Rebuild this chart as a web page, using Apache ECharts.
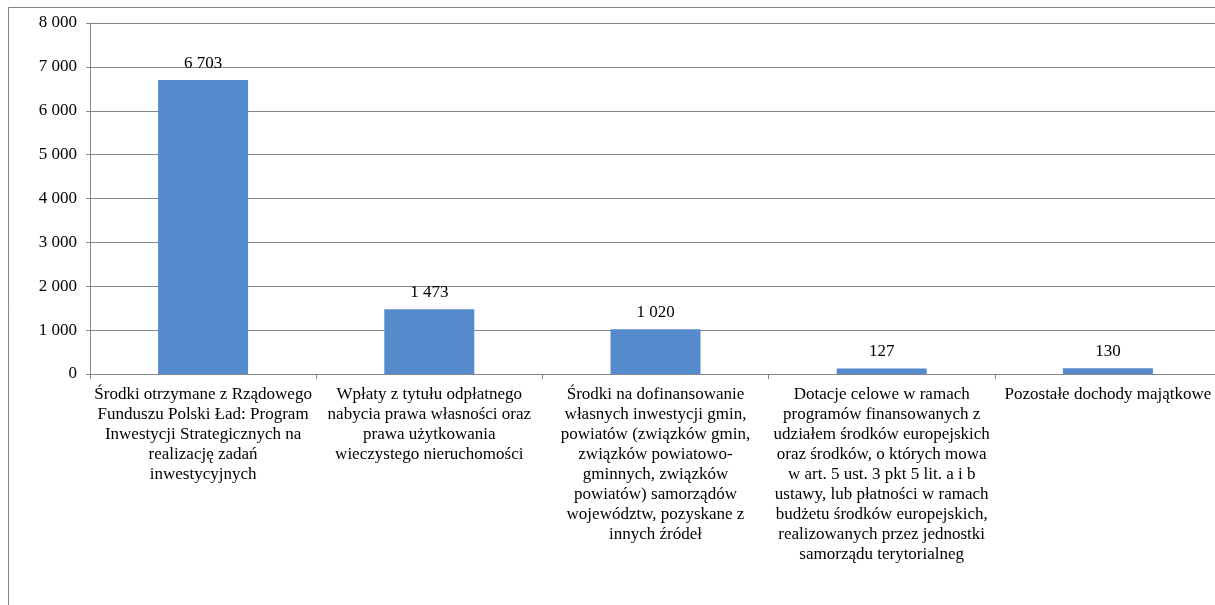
<!DOCTYPE html>
<html>
<head>
<meta charset="utf-8">
<script src="https://cdn.jsdelivr.net/npm/echarts@6/dist/echarts.min.js"></script>
<style>html,body{margin:0;padding:0;background:#fff}#c{width:1215px;height:605px}</style>
</head>
<body>
<div id="c"></div>
<script>
const categories = [
  "Środki otrzymane z Rządowego\nFunduszu Polski Ład: Program\nInwestycji Strategicznych na\nrealizację zadań\ninwestycyjnych",
  "Wpłaty z tytułu odpłatnego\nnabycia prawa własności oraz\nprawa użytkowania\nwieczystego nieruchomości",
  "Środki na dofinansowanie\nwłasnych inwestycji gmin,\npowiatów (związków gmin,\nzwiązków powiatowo-\ngminnych, związków\npowiatów) samorządów\nwojewództw, pozyskane z\ninnych źródeł",
  "Dotacje celowe w ramach\nprogramów finansowanych z\nudziałem środków europejskich\noraz środków, o których mowa\nw art. 5 ust. 3 pkt 5 lit. a i b\nustawy, lub płatności w ramach\nbudżetu środków europejskich,\nrealizowanych przez jednostki\nsamorządu terytorialneg",
  "Pozostałe dochody majątkowe"
];
const values = [6703, 1473, 1020, 127, 130];
const yMin = 0, yMax = 8000, yInterval = 1000;

function fmt(v){ return String(v).replace(/\B(?=(\d{3})+(?!\d))/g, ' '); }

const font = '"Liberation Serif", "Times New Roman", serif';
const grey = '#868686';
const chart = echarts.init(document.getElementById('c'));
chart.setOption({
  animation: false,
  backgroundColor: '#fff',
  graphic: [{
    type: 'rect', z: -1, silent: true,
    shape: { x: 8.5, y: 7.5, width: 1400, height: 800 },
    style: { fill: 'none', stroke: grey, lineWidth: 1 }
  }],
  grid: { left: 90, top: 23, right: -6, bottom: 231, containLabel: false, outerBoundsMode: 'none' },
  xAxis: {
    type: 'category', data: categories,
    axisLine: { lineStyle: { color: grey, width: 1 } },
    axisTick: { show: true, alignWithLabel: false, length: 5, lineStyle: { color: grey } },
    axisLabel: { interval: 0, color: '#000', fontFamily: font, fontSize: 17, lineHeight: 20, margin: 11 }
  },
  yAxis: {
    type: 'value', min: yMin, max: yMax, interval: yInterval,
    axisLine: { show: true, lineStyle: { color: grey, width: 1 } },
    axisTick: { show: true, length: 4, lineStyle: { color: grey } },
    splitLine: { lineStyle: { color: grey, width: 1 } },
    axisLabel: { color: '#000', fontFamily: font, fontSize: 17, margin: 13, formatter: v => fmt(v) }
  },
  series: [{
    type: 'bar', data: values, barWidth: 90,
    itemStyle: { color: '#558BCC' },
    label: { show: true, position: 'top', distance: 8, color: '#000', fontFamily: font, fontSize: 17,
      formatter: p => fmt(p.value) }
  }]
});
</script>
</body>
</html>
